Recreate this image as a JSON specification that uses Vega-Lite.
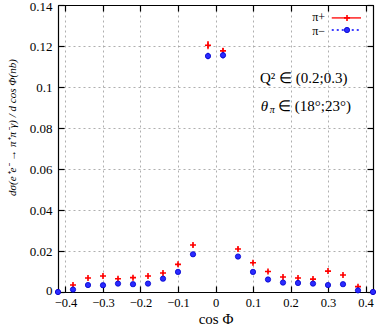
{
  "$schema": "https://vega.github.io/schema/vega-lite/v6.json",
  "width": 315,
  "height": 287,
  "autosize": {"type": "none"},
  "padding": {"left": 58, "top": 5, "right": 3, "bottom": 35},
  "background": "white",
  "config": {
    "view": {"stroke": "black", "strokeWidth": 1},
    "axis": {
      "domainColor": "black",
      "domainWidth": 1.2,
      "tickColor": "black",
      "tickWidth": 1.2,
      "tickSize": -6,
      "labelFont": "Liberation Serif",
      "labelFontSize": 13,
      "labelColor": "black",
      "titleFont": "Liberation Serif",
      "titleColor": "black",
      "titleFontWeight": "normal",
      "gridColor": "#9a9a9a",
      "gridDash": [2, 3],
      "gridWidth": 0.8,
      "format": "~g"
    }
  },
  "datasets": {
    "one": [{}],
    "piplus": [
      {"cos": -0.42, "val": 0.0, "err": 0.0004},
      {"cos": -0.38, "val": 0.0034, "err": 0.0006},
      {"cos": -0.34, "val": 0.0068, "err": 0.0006},
      {"cos": -0.30, "val": 0.0078, "err": 0.0006},
      {"cos": -0.26, "val": 0.0065, "err": 0.0006},
      {"cos": -0.22, "val": 0.0070, "err": 0.0006},
      {"cos": -0.18, "val": 0.0078, "err": 0.0006},
      {"cos": -0.14, "val": 0.0093, "err": 0.0006},
      {"cos": -0.10, "val": 0.0135, "err": 0.0007},
      {"cos": -0.06, "val": 0.0229, "err": 0.0008},
      {"cos": -0.02, "val": 0.1204, "err": 0.0020},
      {"cos": 0.02, "val": 0.1176, "err": 0.0015},
      {"cos": 0.06, "val": 0.0210, "err": 0.0008},
      {"cos": 0.10, "val": 0.0143, "err": 0.0007},
      {"cos": 0.14, "val": 0.0100, "err": 0.0006},
      {"cos": 0.18, "val": 0.0073, "err": 0.0006},
      {"cos": 0.22, "val": 0.0068, "err": 0.0006},
      {"cos": 0.26, "val": 0.0063, "err": 0.0006},
      {"cos": 0.30, "val": 0.0102, "err": 0.0006},
      {"cos": 0.34, "val": 0.0083, "err": 0.0006},
      {"cos": 0.38, "val": 0.0026, "err": 0.0006},
      {"cos": 0.42, "val": 0.0, "err": 0.0004}
    ],
    "piminus": [
      {"cos": -0.42, "val": 0.0, "err": 0.0004},
      {"cos": -0.38, "val": 0.0012, "err": 0.0005},
      {"cos": -0.34, "val": 0.0034, "err": 0.0005},
      {"cos": -0.30, "val": 0.0033, "err": 0.0005},
      {"cos": -0.26, "val": 0.0041, "err": 0.0005},
      {"cos": -0.22, "val": 0.0038, "err": 0.0005},
      {"cos": -0.18, "val": 0.0041, "err": 0.0005},
      {"cos": -0.14, "val": 0.0065, "err": 0.0005},
      {"cos": -0.10, "val": 0.0098, "err": 0.0006},
      {"cos": -0.06, "val": 0.0184, "err": 0.0007},
      {"cos": -0.02, "val": 0.1151, "err": 0.0016},
      {"cos": 0.02, "val": 0.1155, "err": 0.0016},
      {"cos": 0.06, "val": 0.0173, "err": 0.0007},
      {"cos": 0.10, "val": 0.0098, "err": 0.0006},
      {"cos": 0.14, "val": 0.0061, "err": 0.0005},
      {"cos": 0.18, "val": 0.0046, "err": 0.0005},
      {"cos": 0.22, "val": 0.0044, "err": 0.0005},
      {"cos": 0.26, "val": 0.0041, "err": 0.0005},
      {"cos": 0.30, "val": 0.0034, "err": 0.0005},
      {"cos": 0.34, "val": 0.0038, "err": 0.0005},
      {"cos": 0.38, "val": 0.0008, "err": 0.0005},
      {"cos": 0.42, "val": 0.0, "err": 0.0004}
    ]
  },
  "resolve": {"axis": {"x": "independent", "y": "independent"}},
  "layer": [
    {
      "data": {"name": "piplus"},
      "mark": {"type": "errorbar", "ticks": false, "color": "#ff0000", "thickness": 1.3},
      "encoding": {
        "x": {
          "field": "cos", "type": "quantitative",
          "scale": {"domain": [-0.42, 0.42], "nice": false, "zero": false},
          "axis": {
            "orient": "bottom",
            "values": [-0.4, -0.3, -0.2, -0.1, 0, 0.1, 0.2, 0.3, 0.4],
            "grid": true,
            "labelFontSize": 12.5,
            "labelPadding": 10,
            "title": "cos Φ",
            "titleFontSize": 15,
            "titleBaseline": "alphabetic",
            "titleY": 31
          }
        },
        "y": {
          "field": "val", "type": "quantitative",
          "scale": {"domain": [0, 0.14], "nice": false, "zero": true},
          "axis": {
            "orient": "left",
            "values": [0, 0.02, 0.04, 0.06, 0.08, 0.1, 0.12, 0.14],
            "grid": true,
            "labelPadding": 12,
            "labelFlush": true,
            "labelFlushOffset": 5,
            "title": "dσ(e⁺e⁻ → π⁺π⁻γ) / d cos Φ(nb)",
            "titleFontSize": 11,
            "titleFontStyle": "italic",
            "titleBaseline": "middle",
            "titleX": -46,
            "titleY": 122
          }
        },
        "yError": {"field": "err"}
      }
    },
    {
      "data": {"name": "piplus"},
      "mark": {"type": "point", "shape": "M-1,0H1M0,-1V1", "filled": false, "stroke": "#ff0000", "strokeWidth": 1.6, "size": 36, "opacity": 1},
      "encoding": {
        "x": {"field": "cos", "type": "quantitative", "axis": {
          "orient": "top",
          "values": [-0.4, -0.3, -0.2, -0.1, 0, 0.1, 0.2, 0.3, 0.4],
          "labels": false, "grid": false, "title": null
        }},
        "y": {"field": "val", "type": "quantitative", "axis": {
          "orient": "right",
          "values": [0, 0.02, 0.04, 0.06, 0.08, 0.1, 0.12, 0.14],
          "labels": false, "grid": false, "title": null
        }}
      }
    },
    {
      "data": {"name": "piminus"},
      "mark": {"type": "errorbar", "ticks": false, "color": "#0000ff", "thickness": 1.3},
      "encoding": {
        "x": {"field": "cos", "type": "quantitative", "axis": null},
        "y": {"field": "val", "type": "quantitative", "axis": null},
        "yError": {"field": "err"}
      }
    },
    {
      "data": {"name": "piminus"},
      "mark": {"type": "point", "shape": "circle", "filled": true, "fill": "#2a2aff", "stroke": "#0000cc", "strokeWidth": 0.8, "size": 28, "opacity": 1},
      "encoding": {
        "x": {"field": "cos", "type": "quantitative", "axis": null},
        "y": {"field": "val", "type": "quantitative", "axis": null}
      }
    },
    {
      "data": {"name": "one"},
      "mark": {"type": "text", "text": "Q² ∈ (0.2;0.3)", "align": "left", "baseline": "middle", "font": "Liberation Serif", "fontSize": 15, "color": "black"},
      "encoding": {
        "x": {"datum": 0.1187, "type": "quantitative", "axis": null},
        "y": {"datum": 0.1044, "type": "quantitative", "axis": null}
      }
    },
    {
      "data": {"name": "one"},
      "mark": {"type": "text", "text": "θ", "align": "left", "baseline": "middle", "font": "Liberation Serif", "fontStyle": "italic", "fontSize": 15, "color": "black"},
      "encoding": {
        "x": {"datum": 0.1208, "type": "quantitative", "axis": null},
        "y": {"datum": 0.0907, "type": "quantitative", "axis": null}
      }
    },
    {
      "data": {"name": "one"},
      "mark": {"type": "text", "text": "π", "align": "left", "baseline": "middle", "font": "Liberation Serif", "fontStyle": "italic", "fontSize": 10, "color": "black"},
      "encoding": {
        "x": {"datum": 0.1445, "type": "quantitative", "axis": null},
        "y": {"datum": 0.0886, "type": "quantitative", "axis": null}
      }
    },
    {
      "data": {"name": "one"},
      "mark": {"type": "text", "text": "∈ (18°;23°)", "align": "left", "baseline": "middle", "font": "Liberation Serif", "fontSize": 15, "color": "black"},
      "encoding": {
        "x": {"datum": 0.1667, "type": "quantitative", "axis": null},
        "y": {"datum": 0.0907, "type": "quantitative", "axis": null}
      }
    },
    {
      "data": {"name": "one"},
      "mark": {"type": "text", "text": "π+", "align": "right", "baseline": "middle", "font": "Liberation Serif", "fontSize": 12, "color": "black"},
      "encoding": {
        "x": {"datum": 0.292, "type": "quantitative", "axis": null},
        "y": {"datum": 0.1342, "type": "quantitative", "axis": null}
      }
    },
    {
      "data": {"name": "one"},
      "mark": {"type": "text", "text": "π−", "align": "right", "baseline": "middle", "font": "Liberation Serif", "fontSize": 12, "color": "black"},
      "encoding": {
        "x": {"datum": 0.292, "type": "quantitative", "axis": null},
        "y": {"datum": 0.1274, "type": "quantitative", "axis": null}
      }
    },
    {
      "data": {"name": "one"},
      "mark": {"type": "rule", "color": "#ff0000", "strokeWidth": 1.3},
      "encoding": {
        "x": {"datum": 0.31, "type": "quantitative", "axis": null},
        "x2": {"datum": 0.388},
        "y": {"datum": 0.1337, "type": "quantitative", "axis": null}
      }
    },
    {
      "data": {"name": "one"},
      "mark": {"type": "rule", "color": "#0000ff", "strokeWidth": 1.3, "strokeDash": [2, 3]},
      "encoding": {
        "x": {"datum": 0.31, "type": "quantitative", "axis": null},
        "x2": {"datum": 0.388},
        "y": {"datum": 0.1278, "type": "quantitative", "axis": null}
      }
    },
    {
      "data": {"name": "one"},
      "mark": {"type": "point", "shape": "M-1,0H1M0,-1V1", "filled": false, "stroke": "#ff0000", "strokeWidth": 1.6, "size": 36, "opacity": 1},
      "encoding": {
        "x": {"datum": 0.3507, "type": "quantitative", "axis": null},
        "y": {"datum": 0.1337, "type": "quantitative", "axis": null}
      }
    },
    {
      "data": {"name": "one"},
      "mark": {"type": "point", "shape": "circle", "filled": true, "fill": "#2a2aff", "stroke": "#0000cc", "strokeWidth": 0.8, "size": 28, "opacity": 1},
      "encoding": {
        "x": {"datum": 0.3507, "type": "quantitative", "axis": null},
        "y": {"datum": 0.1278, "type": "quantitative", "axis": null}
      }
    }
  ]
}
